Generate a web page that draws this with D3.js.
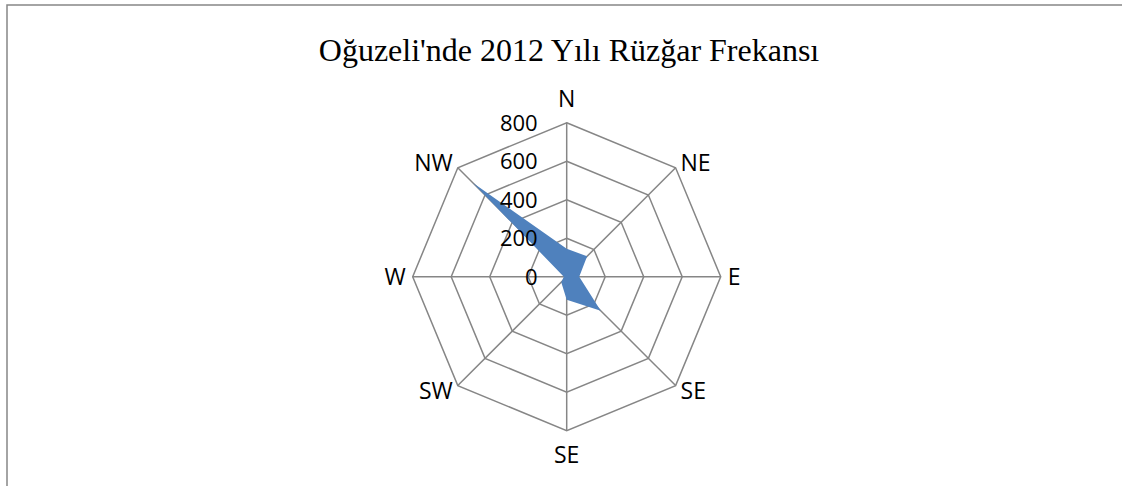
<!DOCTYPE html>
<html>
<head>
<meta charset="utf-8">
<script src="https://cdn.jsdelivr.net/npm/d3@7"></script>
<style>
  html, body { margin: 0; padding: 0; background: #fff; }
  svg { display: block; }
</style>
</head>
<body>
<div id="chart"></div>
<script>
// wind directions (the last label is "SE" in the original sheet too)
const directions = ['N', 'NE', 'E', 'SE', 'SE', 'SW', 'W', 'NW'];
const frequency = [145, 150, 65, 250, 120, 40, 15, 690];
const ticks = [0, 200, 400, 600, 800];

const width = 1122, height = 486;
const cx = 566.7, cy = 276.7, radius = 154;

const svg = d3.select('#chart').append('svg')
  .attr('width', width)
  .attr('height', height);

// outer frame (top + left edges visible)
svg.append('path')
  .attr('d', `M7,${height} L7,5 L${width},5`)
  .attr('fill', 'none')
  .attr('stroke', '#868686')
  .attr('stroke-width', 1.5);

svg.append('text')
  .attr('x', 569)
  .attr('y', 61)
  .attr('text-anchor', 'middle')
  .attr('font-family', '"Liberation Serif", "Times New Roman", serif')
  .attr('font-size', 32)
  .attr('fill', '#000')
  .text("Oğuzeli'nde 2012 Yılı Rüzğar Frekansı");

const r = d3.scaleLinear().domain([0, 800]).range([0, radius]);
const angle = d3.scaleLinear().domain([0, directions.length]).range([0, 2 * Math.PI]);

const g = svg.append('g').attr('transform', `translate(${cx},${cy})`);

const point = (i, v) => [r(v) * Math.sin(angle(i)), -r(v) * Math.cos(angle(i))];

// grid rings
const ringLine = d3.line().curve(d3.curveLinearClosed);
g.selectAll('.ring')
  .data(ticks.filter(t => t > 0))
  .enter().append('path')
  .attr('class', 'ring')
  .attr('d', t => ringLine(directions.map((d, i) => point(i, t))))
  .attr('fill', 'none')
  .attr('stroke', '#868686')
  .attr('stroke-width', 1.5);

// spokes
g.selectAll('.spoke')
  .data(directions)
  .enter().append('line')
  .attr('class', 'spoke')
  .attr('x1', 0).attr('y1', 0)
  .attr('x2', (d, i) => point(i, 800)[0])
  .attr('y2', (d, i) => point(i, 800)[1])
  .attr('stroke', '#868686')
  .attr('stroke-width', 1.5);

// data area
g.append('path')
  .datum(frequency)
  .attr('d', ringLine(frequency.map((v, i) => point(i, v))))
  .attr('fill', '#4F81BD')
  .attr('stroke', 'none');

const labelFont = '"Open Sans", "Noto Sans", sans-serif';

// tick labels along the N spoke
g.selectAll('.tick')
  .data(ticks)
  .enter().append('text')
  .attr('class', 'tick')
  .attr('x', -29)
  .attr('y', t => -r(t))
  .attr('dy', '0.36em')
  .attr('text-anchor', 'end')
  .attr('font-family', labelFont)
  .attr('font-size', 22)
  .attr('fill', '#000')
  .text(d => d);

// direction labels
g.selectAll('.dir')
  .data(directions)
  .enter().append('text')
  .attr('class', 'dir')
  .each(function(d, i) {
    const a = angle(i);
    const ux = Math.sin(a), uy = -Math.cos(a);
    const [tx, ty] = point(i, 800);
    const el = d3.select(this);
    if (Math.abs(ux) < 0.1) {
      el.attr('x', tx)
        .attr('y', uy < 0 ? ty - 16 : ty + 16)
        .attr('dy', uy < 0 ? '0' : '0.72em')
        .attr('text-anchor', 'middle');
    } else {
      el.attr('x', tx + 7 * ux)
        .attr('y', ty + 7 * uy)
        .attr('dy', '0.36em')
        .attr('text-anchor', ux > 0 ? 'start' : 'end');
    }
  })
  .attr('font-family', labelFont)
  .attr('font-size', 23)
  .attr('fill', '#000')
  .text(d => d);
</script>
</body>
</html>
